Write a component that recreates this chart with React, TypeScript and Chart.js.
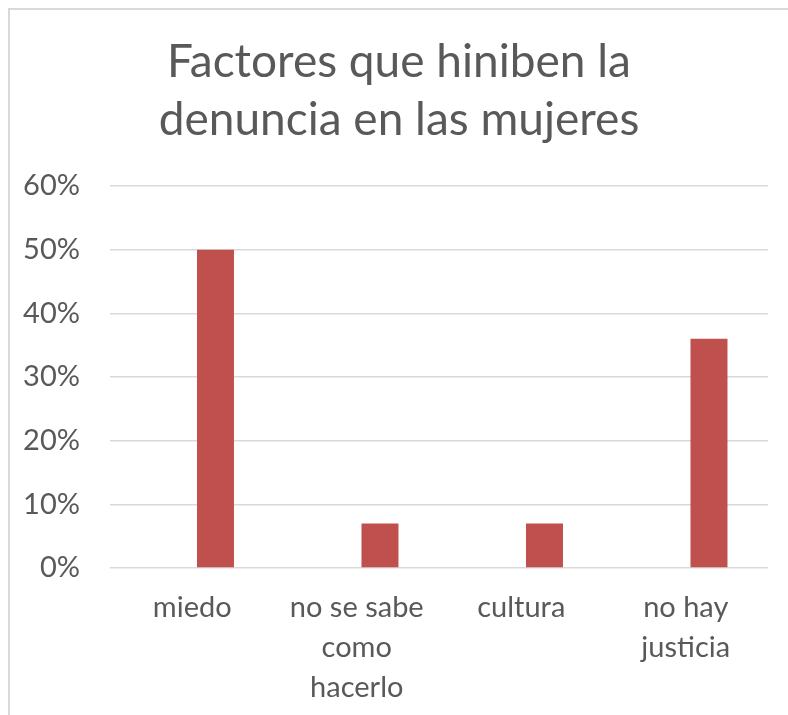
import React, { useEffect, useRef } from "react";
import { Chart, registerables } from "chart.js";

Chart.register(...registerables);

const titleLines = ["Factores que hiniben la", "denuncia en las mujeres"];
const categories = [["miedo"], ["no se sabe", "como", "hacerlo"], ["cultura"], ["no hay", "justicia"]];
const emptySeries = [null, null, null, null];
const values = [0.5, 0.07, 0.07, 0.36];
const yMax = 0.6;
const yStep = 0.1;

const FONT = "Lato, 'Open Sans', 'Liberation Sans', sans-serif";
const GRAY = "#595959";

export default function App() {
  const ref = useRef<HTMLCanvasElement | null>(null);

  useEffect(() => {
    if (!ref.current) return;
    const chart = new Chart(ref.current, {
      type: "bar",
      data: {
        labels: categories as any,
        datasets: [
          { label: "", data: emptySeries as any, backgroundColor: "rgba(0,0,0,0)", yAxisID: "y" },
          { label: "Serie", data: values, backgroundColor: "#C0504D", borderWidth: 0, yAxisID: "y" },
        ],
      },
      options: {
        animation: false,
        responsive: false,
        devicePixelRatio: 1,
        categoryPercentage: 0.565,
        barPercentage: 0.796,
        layout: { padding: { left: 0, right: 0, top: 0, bottom: 0 } },
        plugins: {
          legend: { display: false },
          tooltip: { enabled: false },
          title: {
            display: true,
            text: titleLines,
            color: GRAY,
            font: { family: FONT, size: 46, weight: "normal", lineHeight: "58px" as any },
            padding: { top: 23, bottom: 37 },
          },
        },
        scales: {
          x: {
            grid: { display: false, drawTicks: false },
            border: { display: false },
            ticks: {
              color: GRAY,
              font: { family: FONT, size: 29, lineHeight: "40px" as any },
              padding: 20,
              maxRotation: 0,
              autoSkip: false,
            },
            afterFit: (s: any) => {
              s.height = 147;
            },
          },
          y: {
            min: 0,
            max: yMax,
            grid: { color: "#d9d9d9", lineWidth: 1.4, drawTicks: false },
            border: { display: false },
            ticks: {
              stepSize: yStep,
              color: GRAY,
              padding: 30,
              font: { family: FONT, size: 29 },
              callback: (v: any) => Math.round(Number(v) * 100) + "%",
            },
            afterFit: (s: any) => {
              s.width = 100;
            },
          },
          yRight: {
            position: "right",
            display: true,
            min: 0,
            max: yMax,
            grid: { display: false, drawTicks: false },
            border: { display: false },
            ticks: { display: false },
            afterFit: (s: any) => {
              s.width = 20;
            },
          },
        },
      },
    });
    return () => chart.destroy();
  }, []);

  return (
    <div
      style={{
        position: "fixed",
        left: 8,
        top: 8,
        width: 780,
        height: 707,
        boxSizing: "border-box",
        borderTop: "2px solid #d9d9d9",
        borderLeft: "2px solid #d9d9d9",
        background: "#fff",
        overflow: "hidden",
      }}
    >
      <canvas ref={ref} width={778} height={705} style={{ display: "block" }} />
    </div>
  );
}
